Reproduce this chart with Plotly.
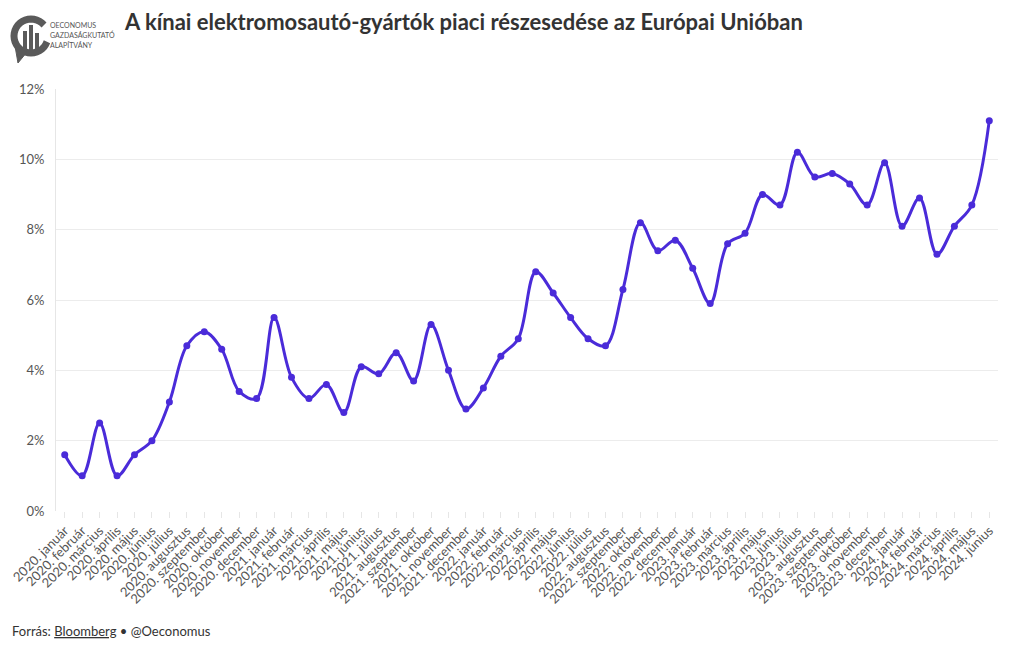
import plotly.graph_objects as go
import math

months = ["január", "február", "március", "április", "május", "június",
          "július", "augusztus", "szeptember", "október", "november", "december"]
years = [2020, 2021, 2022, 2023, 2024]
categories = [f"{y}. {m}" for y in years for m in months][:54]

share = [1.6, 1.0, 2.5, 1.0, 1.6, 2.0, 3.1, 4.7, 5.1, 4.6, 3.4, 3.2,
         5.5, 3.8, 3.2, 3.6, 2.8, 4.1, 3.9, 4.5, 3.7, 5.3, 4.0, 2.9,
         3.5, 4.4, 4.9, 6.8, 6.2, 5.5, 4.9, 4.7, 6.3, 8.2, 7.4, 7.7,
         6.9, 5.9, 7.6, 7.9, 9.0, 8.7, 10.2, 9.5, 9.6, 9.3, 8.7, 9.9,
         8.1, 8.9, 7.3, 8.1, 8.7, 11.1]
share_frac = [v / 100 for v in share]

logo_lines = ["OECONOMUS", "GAZDASÁGKUTATÓ", "ALAPÍTVÁNY"]

W, H = 1020, 650
ML, MR, MT, MB = 56, 22, 89, 139
PW, PH = W - ML - MR, H - MT - MB

def px(x):
    return (x - ML) / PW

def py(y):
    return (H - MB - y) / PH

LINE = "#4a2bd9"
FONT = "Lato, 'Source Sans Pro', 'Noto Sans', sans-serif"

fig = go.Figure()
fig.add_trace(go.Scatter(
    x=categories, y=share_frac, mode="lines+markers",
    line=dict(color=LINE, width=3, shape="spline", smoothing=1.0),
    marker=dict(color=LINE, size=7),
    hovertemplate="%{x}: %{y:.1%}<extra></extra>",
    showlegend=False,
))

# logo
shapes = []
cx, cy, r = 31, 36, 17
pts = []
for i in range(0, 301, 10):
    a = math.radians(40 + i)
    pts.append((cx + r * math.cos(a), cy - r * math.sin(a)))
path = "M " + " L ".join(f"{px(x):.5f},{py(y):.5f}" for x, y in pts)
shapes.append(dict(type="path", path=path, xref="paper", yref="paper",
                   line=dict(color="#5a5a5a", width=7)))
tail = f"M {px(15):.5f},{py(46):.5f} L {px(18):.5f},{py(63):.5f} L {px(27):.5f},{py(52):.5f} Z"
shapes.append(dict(type="path", path=tail, xref="paper", yref="paper",
                   fillcolor="#5a5a5a", line=dict(color="#5a5a5a", width=1)))
for bx0, bx1, by0 in [(23, 27, 31), (29, 33, 25), (35, 39, 33)]:
    shapes.append(dict(type="rect", xref="paper", yref="paper",
                       x0=px(bx0), x1=px(bx1), y0=py(by0), y1=py(50),
                       fillcolor="#5a5a5a", line=dict(width=0)))

annotations = []
for i, t in enumerate(logo_lines):
    annotations.append(dict(text=t, x=px(48), y=py(25 + 10 * i),
                            xref="paper", yref="paper", xanchor="left",
                            yanchor="middle", showarrow=False,
                            font=dict(family=FONT, size=7, color="#555555")))
annotations += [
    dict(text="<b>A kínai elektromosautó-gyártók piaci részesedése az Európai Unióban</b>",
         x=px(122), y=py(22), xref="paper", yref="paper", xanchor="left",
         yanchor="middle", showarrow=False,
         font=dict(family=FONT, size=22, color="#333333")),
    dict(text="Forrás: <u>Bloomberg</u> • @Oeconomus",
         x=px(10), y=py(631), xref="paper", yref="paper", xanchor="left",
         yanchor="middle", showarrow=False,
         font=dict(family=FONT, size=13, color="#333333")),
]

fig.update_layout(
    width=W, height=H,
    margin=dict(l=ML, r=MR, t=MT, b=MB, autoexpand=False),
    paper_bgcolor="white", plot_bgcolor="white",
    font=dict(family=FONT, color="#555555"),
    shapes=shapes, annotations=annotations,
    xaxis=dict(type="category", range=[-0.5, 53.5], tickangle=-45,
               tickfont=dict(size=13, color="#555555"),
               showgrid=False, ticks="outside", ticklen=6, tickcolor="#e6e6e6",
               showline=False, zeroline=False, fixedrange=True),
    yaxis=dict(range=[0, 0.12], dtick=0.02, tickformat=".0%",
               tickfont=dict(size=13, color="#555555"),
               gridcolor="#ececec", gridwidth=1, zeroline=False,
               showline=True, linecolor="#e6e6e6", linewidth=1,
               ticks="", ticklabelstandoff=8, fixedrange=True),
)

fig.write_html("out.html")
